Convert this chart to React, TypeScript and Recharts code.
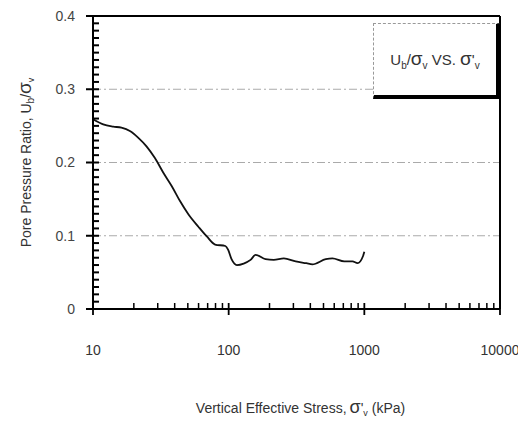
import { LineChart, Line, XAxis, YAxis, ReferenceLine, Legend } from 'recharts';

// vertical effective stress (kPa) vs pore pressure ratio
const stress = [10, 11.9, 14.1, 16.2, 18.7, 21.5, 24.8, 28.6, 33, 38, 43.9, 50.6, 60, 69, 79.4, 94.6, 99, 105, 115, 129, 145, 158, 187, 215, 255, 312, 374, 414, 520, 582, 711, 819, 891, 977, 1000];
const ratio = [0.259, 0.252, 0.249, 0.2475, 0.243, 0.234, 0.222, 0.206, 0.186, 0.168, 0.147, 0.129, 0.112, 0.099, 0.088, 0.086, 0.081, 0.068, 0.06, 0.062, 0.067, 0.074, 0.068, 0.067, 0.069, 0.065, 0.0625, 0.061, 0.068, 0.069, 0.065, 0.065, 0.0625, 0.072, 0.078];

const xMajorTicks = [10, 100, 1000, 10000];
const xMinorTicks = [20, 30, 40, 50, 60, 70, 80, 90, 200, 300, 400, 500, 600, 700, 800, 900, 2000, 3000, 4000, 5000, 6000, 7000, 8000, 9000];
const yDomain = [0, 0.4];
const yMajorTicks = [0, 0.1, 0.2, 0.3, 0.4];
const yMinorStep = 0.01;
const gridValues = [0.1, 0.2, 0.3];

const data = stress.map((s, i) => ({ stress: s, ratio: ratio[i] }));

const FONT = '"Liberation Sans", Arial, sans-serif';

function XTick({ x, y, payload }: any) {
  const major = xMajorTicks.includes(payload.value);
  if (!major) {
    return <line x1={x} x2={x} y1={y} y2={y - 6} stroke="#000" strokeWidth={1.5} />;
  }
  return (
    <g>
      <line x1={x} x2={x} y1={y - 6} y2={y + 6} stroke="#000" strokeWidth={1.8} />
      <text x={x} y={y + 46} textAnchor="middle" fontSize={14} fill="#333" fontFamily={FONT}>
        {payload.value}
      </text>
    </g>
  );
}

// major tick + label, plus the minor ticks up to the next major
// (spacing taken from the axis height, Recharts drops the dense minor ticks)
function YTick(props: any) {
  const { x, y, payload } = props;
  const h = Number(props.height) || 293;
  const pxPerStep = (h * yMinorStep) / (yDomain[1] - yDomain[0]);
  const isTop = payload.value >= yDomain[1];
  const minors = isTop ? [] : [1, 2, 3, 4, 5, 6, 7, 8, 9];
  return (
    <g>
      <line x1={x - 7} x2={x + 6} y1={y} y2={y} stroke="#000" strokeWidth={2} />
      {minors.map((k) => (
        <line
          key={k}
          x1={x - 1}
          x2={x + 6}
          y1={y - k * pxPerStep}
          y2={y - k * pxPerStep}
          stroke="#000"
          strokeWidth={2}
        />
      ))}
      <text x={x - 18} y={y} dy="0.35em" textAnchor="end" fontSize={14} fill="#444" fontFamily={FONT}>
        {payload.value === 0 ? '0' : payload.value.toFixed(1)}
      </text>
    </g>
  );
}

function YTitle({ viewBox }: any) {
  const cx = viewBox.x - 7;
  const cy = viewBox.y + viewBox.height / 2;
  return (
    <text
      transform={`translate(${cx},${cy}) rotate(-90)`}
      textAnchor="middle"
      dy="0.35em"
      fontSize={14}
      fill="#333"
      fontFamily={FONT}
    >
      Pore Pressure Ratio, U
      <tspan fontSize={10} dy={3}>b</tspan>
      <tspan dy={-3}>/</tspan>
      <tspan fontSize={19}>σ</tspan>
      <tspan fontSize={9} dy={3}>v</tspan>
    </text>
  );
}

function XTitle({ viewBox }: any) {
  const cx = viewBox.x + viewBox.width / 2 + 4;
  return (
    <text x={cx} y={viewBox.y + 104} textAnchor="middle" fontSize={14} fill="#333" fontFamily={FONT}>
      Vertical Effective Stress,
      <tspan fontSize={18} dx={3}>σ</tspan>
      <tspan>'</tspan>
      <tspan fontSize={9} dy={3}>v</tspan>
      <tspan dy={-3}> (kPa)</tspan>
    </text>
  );
}

function LegendBox() {
  return (
    <div
      style={{
        boxSizing: 'border-box',
        width: 127,
        height: 76,
        background: '#fff',
        borderTop: '1px dashed #999',
        borderLeft: '1px dashed #999',
        borderRight: '4px solid #000',
        borderBottom: '4px solid #000',
        display: 'flex',
        alignItems: 'center',
        justifyContent: 'center',
        fontFamily: FONT,
        fontSize: 15,
        color: '#333',
        whiteSpace: 'nowrap',
      }}
    >
      <span>
        U<sub style={{ fontSize: 10 }}>b</sub>/<span style={{ fontSize: 19 }}>σ</span>
        <sub style={{ fontSize: 10 }}>v</sub> VS. <span style={{ fontSize: 19 }}>σ</span>'
        <sub style={{ fontSize: 10 }}>v</sub>
      </span>
    </div>
  );
}

export default function App() {
  return (
    <div style={{ position: 'absolute', left: 0, top: 0, width: 518, height: 423, background: '#fff' }}>
      <LineChart width={518} height={423} data={data} margin={{ top: 16, right: 18, left: 33, bottom: 84 }}>
        <XAxis
          dataKey="stress"
          type="number"
          scale="log"
          domain={[10, 10000]}
          ticks={[...xMajorTicks, ...xMinorTicks].sort((a, b) => a - b)}
          interval={0}
          allowDataOverflow
          height={30}
          tickSize={0}
          tickMargin={0}
          tickLine={false}
          axisLine={{ stroke: '#000', strokeWidth: 2 }}
          tick={<XTick />}
          label={<XTitle />}
        />
        <YAxis
          type="number"
          domain={yDomain}
          ticks={yMajorTicks}
          interval={0}
          width={60}
          tickSize={0}
          tickMargin={0}
          tickLine={false}
          axisLine={{ stroke: '#000', strokeWidth: 2 }}
          tick={<YTick />}
          label={<YTitle />}
        />
        {gridValues.map((v) => (
          <ReferenceLine key={v} y={v} stroke="#aaa" strokeWidth={1} strokeDasharray="8 3 2 3" />
        ))}
        <ReferenceLine y={0.4} stroke="#000" strokeWidth={2} />
        <ReferenceLine x={10000} stroke="#000" strokeWidth={2} />
        <Legend
          layout="horizontal"
          verticalAlign="middle"
          align="center"
          content={<LegendBox />}
          wrapperStyle={{ left: 373, top: 23, width: 127, height: 76 }}
        />
        <Line
          type="monotone"
          dataKey="ratio"
          stroke="#111"
          strokeWidth={1.8}
          dot={false}
          isAnimationActive={false}
        />
      </LineChart>
    </div>
  );
}
